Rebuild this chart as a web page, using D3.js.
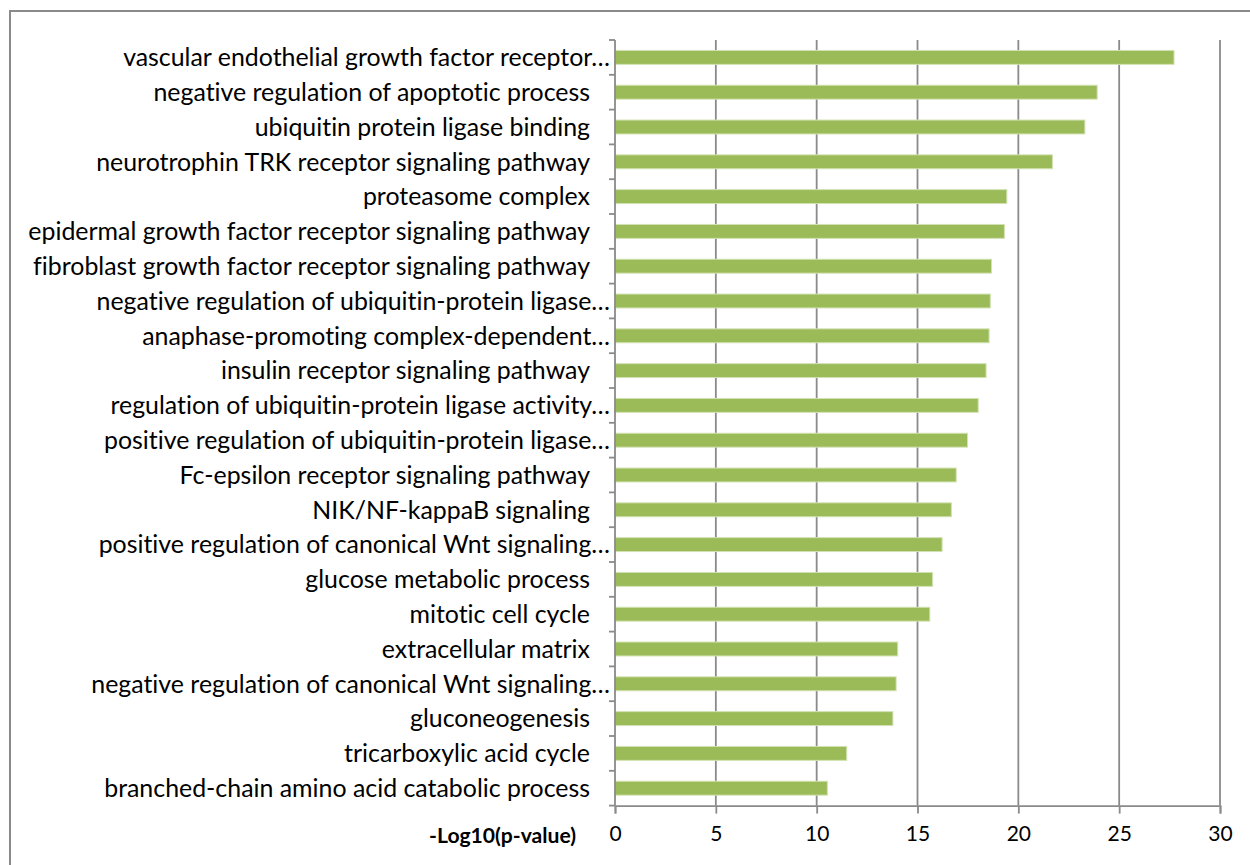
<!DOCTYPE html>
<html>
<head>
<meta charset="utf-8">
<script src="https://cdn.jsdelivr.net/npm/d3@7"></script>
<style>
  html, body { margin: 0; padding: 0; background: #fff; }
  svg { display: block; }
  text { font-family: Lato, "Open Sans", "DejaVu Sans", sans-serif; fill: #000;
         font-variant-ligatures: none; font-feature-settings: "liga" 0; }
</style>
</head>
<body>
<svg id="chart" width="1250" height="865"></svg>
<script>
const categories = [
  "vascular endothelial growth factor receptor…",
  "negative regulation of apoptotic process",
  "ubiquitin protein ligase binding",
  "neurotrophin TRK receptor signaling pathway",
  "proteasome complex",
  "epidermal growth factor receptor signaling pathway",
  "fibroblast growth factor receptor signaling pathway",
  "negative regulation of ubiquitin-protein ligase…",
  "anaphase-promoting complex-dependent…",
  "insulin receptor signaling pathway",
  "regulation of ubiquitin-protein ligase activity…",
  "positive regulation of ubiquitin-protein ligase…",
  "Fc-epsilon receptor signaling pathway",
  "NIK/NF-kappaB signaling",
  "positive regulation of canonical Wnt signaling…",
  "glucose metabolic process",
  "mitotic cell cycle",
  "extracellular matrix",
  "negative regulation of canonical Wnt signaling…",
  "gluconeogenesis",
  "tricarboxylic acid cycle",
  "branched-chain amino acid catabolic process"
];
const values = [27.72, 23.91, 23.30, 21.69, 19.43, 19.31, 18.67, 18.61, 18.55, 18.40,
                18.01, 17.48, 16.92, 16.68, 16.22, 15.75, 15.61, 14.02, 13.94, 13.78,
                11.49, 10.53];
const xTicks = [0, 5, 10, 15, 20, 25, 30];
const xTitle = "-Log10(p-value)";

(function () {
const svg = d3.select("#chart");
const pLeft = 615, pRight = 1220, pTop = 40, pBottom = 805.6;

// outer chart border (extends beyond the picture on right/bottom)
svg.append("rect")
  .attr("x", 10).attr("y", 11).attr("width", 1300).attr("height", 900)
  .attr("fill", "none").attr("stroke", "#8a8a8a").attr("stroke-width", 2);

const x = d3.scaleLinear().domain([0, 30]).range([pLeft, pRight]);
const y = d3.scaleBand().domain(categories).range([pTop, pBottom])
  .paddingInner(0.6).paddingOuter(0.3);

const gridColor = "#8a8a8a";

// vertical gridlines
svg.append("g").selectAll("line").data(xTicks.filter(d => d > 0)).join("line")
  .attr("x1", d => x(d)).attr("x2", d => x(d))
  .attr("y1", pTop).attr("y2", pBottom)
  .attr("stroke", gridColor).attr("stroke-width", 1.8);

// bars
svg.append("g").selectAll("rect").data(values).join("rect")
  .attr("x", x(0))
  .attr("y", (d, i) => y(categories[i]))
  .attr("width", d => x(d) - x(0))
  .attr("height", y.bandwidth())
  .attr("fill", "#9BBB59")
  .attr("stroke", "#d3e2b4").attr("stroke-width", 1);

// x axis
const xAxis = d3.axisBottom(x).tickValues(xTicks).tickSize(8).tickPadding(12);
const gx = svg.append("g").attr("transform", `translate(0,${pBottom})`).call(xAxis);
gx.select(".domain").attr("stroke", gridColor).attr("stroke-width", 1.8);
gx.selectAll(".tick line").attr("stroke", gridColor).attr("stroke-width", 1.8);
gx.selectAll(".tick text").attr("font-size", 21).attr("font-family", "Lato, sans-serif")
  .attr("fill", "#000");

// y axis line and boundary ticks
const step = y.step();
const y0 = y(categories[0]) - step * y.paddingInner() / 2;
svg.append("line")
  .attr("x1", pLeft).attr("x2", pLeft).attr("y1", pTop).attr("y2", pBottom)
  .attr("stroke", gridColor).attr("stroke-width", 1.8);
svg.append("g").selectAll("line").data(d3.range(categories.length + 1)).join("line")
  .attr("x1", pLeft - 6).attr("x2", pLeft)
  .attr("y1", i => y0 + i * step).attr("y2", i => y0 + i * step)
  .attr("stroke", gridColor).attr("stroke-width", 1.8);

// category labels
const labels = svg.append("g").selectAll("text").data(categories).join("text")
  .attr("x", d => d.endsWith("…") ? 610 : 590)
  .attr("y", d => y(d) + y.bandwidth() / 2)
  .attr("dy", "0.35em")
  .attr("text-anchor", "end")
  .attr("font-size", 21)
  .text(d => d);

// fit the font size so a reference label matches the reference width (~562px)
const refNode = labels.nodes()[5];
const w0 = refNode.getComputedTextLength();
const fs = Math.max(18, Math.min(27, 21 * 562 / w0));
labels.attr("font-size", fs);

// x axis title
const title = svg.append("text")
  .attr("x", 576).attr("y", 836).attr("dy", "0.35em")
  .attr("text-anchor", "end")
  .attr("font-size", 18).attr("font-weight", "bold")
  .text(xTitle);
const tw = title.node().getComputedTextLength();
title.attr("font-size", Math.max(16, Math.min(23, 18 * 147 / tw)));
})();
</script>
</body>
</html>
